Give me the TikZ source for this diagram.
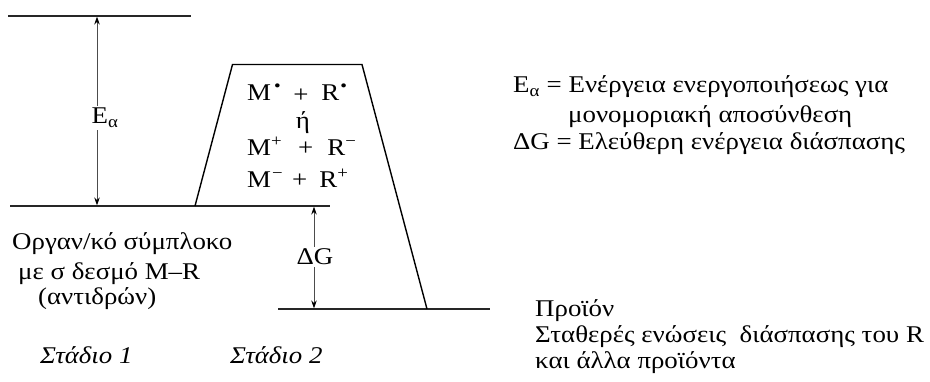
\documentclass[tikz,border=0pt]{standalone}
\usepackage{fontspec}
\setmainfont{Liberation Serif}[FakeStretch=1.12]
\usetikzlibrary{arrows.meta}
\tikzset{
  level/.style={line width=1.3pt, black!85},
  wall/.style={line width=1.4pt, black},
  energy/.style={line width=0.9pt, black!70, {Stealth[length=8pt,width=5.5pt,black]}-{Stealth[length=8pt,width=5.5pt,black]}},
  txt/.style={inner sep=0pt, anchor=base west, font=\fontsize{24}{28}\selectfont},
  lbl/.style={txt, fill=white, inner sep=2pt, anchor=base},
}
\begin{document}
\begin{tikzpicture}[x=1pt,y=-1pt]
\useasboundingbox (0,0) rectangle (930,382);
% levels
\coordinate (topL) at (8,16);
\coordinate (topR) at (191,16);
\coordinate (reaL) at (10,206);
\coordinate (reaR) at (330,206);
\coordinate (proL) at (278,309);
\coordinate (proR) at (490,309);
\draw[level] (topL) -- (topR);
\draw[level] (reaL) -- (reaR);
\draw[level] (proL) -- (proR);
% trapezoid
\coordinate (t1) at (195,206);
\coordinate (t2) at (232.5,64.5);
\coordinate (t3) at (362,64.5);
\coordinate (t4) at (427,309);
\draw[wall] (t1) -- (t2) -- (t3) -- (t4);
% arrows
\coordinate (eaT) at (97,16.6);
\coordinate (eaB) at (97,205.4);
\draw[energy] (eaT) -- (eaB);
\node[lbl] (ea) at (105,124) {E\textsubscript{α}};
\coordinate (dgT) at (314,206.6);
\coordinate (dgB) at (314,308.4);
\draw[energy] (dgT) -- (dgB);
\node[lbl] (dg) at (315,265) {ΔG};
% trapezoid text
\node[txt] (m1) at (247,101) {M\textsuperscript{\kern3pt\fontsize{17}{17}\selectfont•}\hspace{12pt}\raisebox{-2pt}{+}\hspace{13pt}R\textsuperscript{\kern1pt\fontsize{17}{17}\selectfont•}};
\node[txt, anchor=base] (or) at (303,129) {ή};
\node[txt] (m2) at (247,156) {M\textsuperscript{+}\hspace{16pt}+\hspace{14pt}R\textsuperscript{−}};
\node[txt] (m3) at (247,188) {M\textsuperscript{\kern1pt−}\hspace{9pt}+\hspace{12pt}R\textsuperscript{+}};
% legend
\node[txt] (l1) at (513,93) {E\textsubscript{α} = Ενέργεια ενεργοποιήσεως για};
\node[txt] (l2) at (568,123) {μονομοριακή αποσύνθεση};
\node[txt] (l3) at (513,150) {ΔG = Ελεύθερη ενέργεια διάσπασης};
% reactant text
\node[txt] (r1) at (12,250) {Οργαν/κό σύμπλοκο};
\node[txt] (r2) at (18,280) {με σ δεσμό M–R};
\node[txt] (r3) at (38,305) {(αντιδρών)};
% product text
\node[txt] (p1) at (535,317) {Προϊόν};
\node[txt] (p2) at (535,343) {Σταθερές ενώσεις\ \ διάσπασης του R};
\node[txt] (p3) at (535,368) {και άλλα προϊόντα};
% stages
\node[txt, font=\fontsize{24}{28}\selectfont\itshape] (s1) at (40,363) {Στάδιο 1};
\node[txt, font=\fontsize{24}{28}\selectfont\itshape] (s2) at (230,363) {Στάδιο 2};
\end{tikzpicture}
\end{document}
